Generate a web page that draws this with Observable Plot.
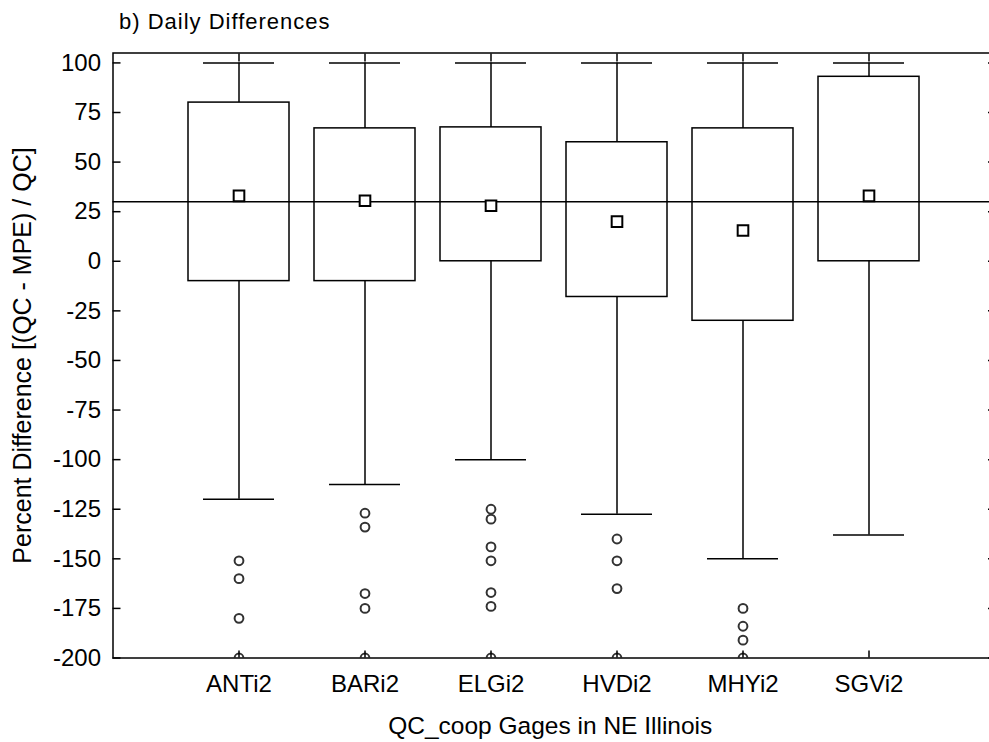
<!DOCTYPE html>
<html>
<head>
<meta charset="utf-8">
<script src="https://cdn.jsdelivr.net/npm/d3@7"></script>
<script src="https://cdn.jsdelivr.net/npm/@observablehq/plot@0.6"></script>
<style>
  html, body { margin: 0; padding: 0; background: white; overflow: hidden; }
</style>
</head>
<body>
<div id="chart"></div>
<script>
// ---- data ----
const gages = ["ANTi2", "BARi2", "ELGi2", "HVDi2", "MHYi2", "SGVi2"];
const boxLow = [-10, -10, 0, -18, -30, 0];          // 25th percentile
const boxHigh = [80, 67, 67.5, 60, 67, 93];         // 75th percentile
const whiskerLow = [-120, -112.5, -100, -127.5, -150, -138];
const whiskerHigh = [100, 100, 100, 100, 100, 100];
const means = [33, 30.5, 28, 20, 15.5, 33];

const outlierGage = [
  "ANTi2", "ANTi2", "ANTi2", "ANTi2",
  "BARi2", "BARi2", "BARi2", "BARi2", "BARi2",
  "ELGi2", "ELGi2", "ELGi2", "ELGi2", "ELGi2", "ELGi2", "ELGi2",
  "HVDi2", "HVDi2", "HVDi2", "HVDi2",
  "MHYi2", "MHYi2", "MHYi2", "MHYi2"
];
const outlierValue = [
  -151, -160, -180, -200,
  -127, -134, -167.5, -175, -200,
  -125, -130, -144, -151, -167, -174, -200,
  -140, -151, -165, -200,
  -175, -184, -191, -200
];

const referenceLine = [30];
const yTicks = [-200, -175, -150, -125, -100, -75, -50, -25, 0, 25, 50, 75, 100];
const yDomain = [-200, 105];

const titleText = ["b) Daily Differences"];
const yLabel = ["Percent Difference [(QC - MPE) / QC]"];
const xLabel = ["QC_coop Gages in NE Illinois"];

// ---- tables built from the arrays ----
const boxes = gages.map((g, i) => ({
  gage: g, q1: boxLow[i], q3: boxHigh[i], lo: whiskerLow[i], hi: whiskerHigh[i], mean: means[i]
}));
const outliers = outlierValue.map((v, i) => ({gage: outlierGage[i], value: v}));

const noLabel = () => "";
const hyphenFormat = d => String(d);   // plain hyphen-minus, as in the reference
const lw = 1.5;

const chart = Plot.plot({
  width: 989,
  height: 742,
  marginLeft: 112.5,
  marginRight: -6,
  marginTop: 52.5,
  marginBottom: 84.5,
  style: {
    fontFamily: "Arial, 'Liberation Sans', sans-serif",
    fontSize: "24px",
    background: "white",
    color: "black",
    overflow: "hidden"
  },
  x: {type: "band", domain: gages, paddingInner: 0.2, paddingOuter: 0.6, align: 0.5},
  y: {domain: yDomain},
  marks: [
    Plot.barY(boxes, {x: "gage", y1: "q1", y2: "q3", fill: "none", stroke: "black", strokeWidth: lw}),
    Plot.ruleX(boxes, {x: "gage", y1: "q3", y2: "hi", stroke: "black", strokeWidth: lw}),
    Plot.ruleX(boxes, {x: "gage", y1: "lo", y2: "q1", stroke: "black", strokeWidth: lw}),
    Plot.tickY(boxes, {x: "gage", y: "hi", inset: 15, stroke: "black", strokeWidth: lw}),
    Plot.tickY(boxes, {x: "gage", y: "lo", inset: 15, stroke: "black", strokeWidth: lw}),
    Plot.ruleY(referenceLine, {stroke: "black", strokeWidth: lw}),
    Plot.dot(boxes, {x: "gage", y: "mean", symbol: "square", r: 6, fill: "white", stroke: "black", strokeWidth: 2}),
    Plot.dot(outliers, {x: "gage", y: "value", r: 4.4, fill: "white", stroke: "#333", strokeWidth: 2, clip: true}),
    // axes
    Plot.axisY(yTicks, {anchor: "left", tickSize: 0, tickPadding: 12, tickFormat: hyphenFormat, label: null}),
    Plot.axisY(yTicks, {anchor: "left", tickSize: -8, tickFormat: noLabel, label: null, strokeWidth: lw}),
    Plot.axisY(yTicks, {anchor: "right", tickSize: -8, tickFormat: noLabel, label: null, strokeWidth: lw}),
    Plot.axisX({anchor: "bottom", tickSize: 0, tickPadding: 17, label: null}),
    Plot.axisX({anchor: "bottom", tickSize: -7, tickFormat: noLabel, label: null, strokeWidth: lw}),
    Plot.axisX({anchor: "top", tickSize: -8, tickFormat: noLabel, label: null, strokeWidth: lw}),
    Plot.frame({stroke: "black", strokeWidth: lw}),
    // texts
    Plot.text(titleText, {text: d => d, frameAnchor: "top-left", dx: 6, dy: -31, textAnchor: "start", lineAnchor: "middle", fontSize: 22}),
    Plot.text(yLabel, {text: d => d, frameAnchor: "left", rotate: -90, dx: -90, textAnchor: "middle", lineAnchor: "middle", fontSize: 25}),
    Plot.text(xLabel, {text: d => d, frameAnchor: "bottom", dx: -4, dy: 68, textAnchor: "middle", lineAnchor: "middle", fontSize: 24.5})
  ]
});

// letter spacing of the title, as in the reference
d3.select(chart).selectAll("text").filter(function() { return this.textContent === titleText[0]; })
  .attr("letter-spacing", "1px");

document.getElementById("chart").appendChild(chart);
</script>
</body>
</html>
